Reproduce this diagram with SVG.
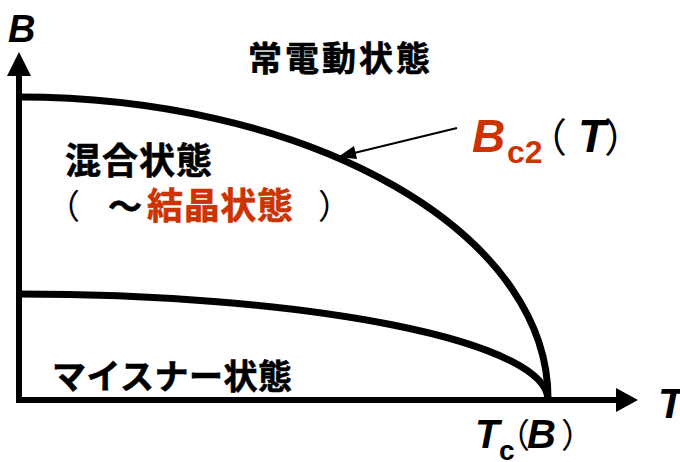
<svg xmlns="http://www.w3.org/2000/svg" width="680" height="462" viewBox="0 0 680 462">
<style>
.jp{font-family:"Noto Sans CJK JP","Noto Sans CJK SC",sans-serif;font-weight:bold;fill:#000;stroke:#000;stroke-width:0.6}
.par{font-family:"Noto Sans CJK JP","Noto Sans CJK SC",sans-serif;font-weight:normal;fill:#000}
.lat{font-family:"Liberation Sans",Arial,sans-serif;font-weight:bold;font-style:italic;fill:#000}
.sub{font-family:"Liberation Sans",Arial,sans-serif;font-weight:bold;fill:#000}
.or{fill:#cc3300;stroke:#cc3300}
.lat.or,.sub.or{stroke:none}
.curve{fill:none;stroke:#000;stroke-width:7}
.axis{fill:none;stroke:#000;stroke-width:6}
</style>
<rect width="680" height="462" fill="#fff"/>
<g id="connectors">
  <path class="axis" d="M19,403 V72"/>
  <polygon points="19,52 7,76 31,76" fill="#000"/>
  <path class="axis" d="M16,400 H620"/>
  <polygon points="638,400 616,388 616,412" fill="#000"/>
  <line x1="457" y1="128" x2="350" y2="154" stroke="#000" stroke-width="2.2"/>
  <polygon points="338,157 354,146 357,159" fill="#000"/>
</g>
<g id="curve-bc2">
  <path class="curve" d="M19,97 A529,301 0 0 1 548,400"/>
</g>
<g id="curve-bc1">
  <path class="curve" d="M19,294 A529,106 0 0 1 548,400"/>
</g>
<g id="label-B-axis"><text class="lat" x="8" y="42" font-size="38">B</text></g>
<g id="label-T-axis"><text class="lat" x="658" y="418" font-size="42">T</text></g>
<g id="label-normal"><text class="jp" x="248" y="71" font-size="34" textLength="182" lengthAdjust="spacing">常電動状態</text></g>
<g id="label-mixed">
  <text class="jp" x="65" y="174" font-size="36" textLength="147" lengthAdjust="spacing">混合状態</text>
  <text class="par" x="46" y="219" font-size="34">（</text>
  <text class="jp" x="108" y="219" font-size="34">～</text>
  <text class="jp or" x="147" y="219" font-size="36" textLength="146" lengthAdjust="spacing">結晶状態</text>
  <text class="par" x="318" y="219" font-size="34">）</text>
</g>
<g id="label-meissner"><text class="jp" x="52" y="389" font-size="34" textLength="240" lengthAdjust="spacing">マイスナー状態</text></g>
<g id="label-bc2">
  <text class="lat or" x="472" y="152" font-size="46">B</text>
  <text class="sub or" x="507" y="163" font-size="32">c2</text>
  <text class="par" x="527" y="152" font-size="40">（</text>
  <text class="lat" x="578" y="152" font-size="46">T</text>
  <text class="par" x="604" y="152" font-size="40">）</text>
</g>
<g id="label-tc">
  <text class="lat" x="475" y="448" font-size="40">T</text>
  <text class="sub" x="499" y="460" font-size="28">c</text>
  <text class="par" x="496" y="448" font-size="34">（</text>
  <text class="lat" x="527" y="448" font-size="40">B</text>
  <text class="par" x="561" y="448" font-size="34">）</text>
</g>
</svg>
